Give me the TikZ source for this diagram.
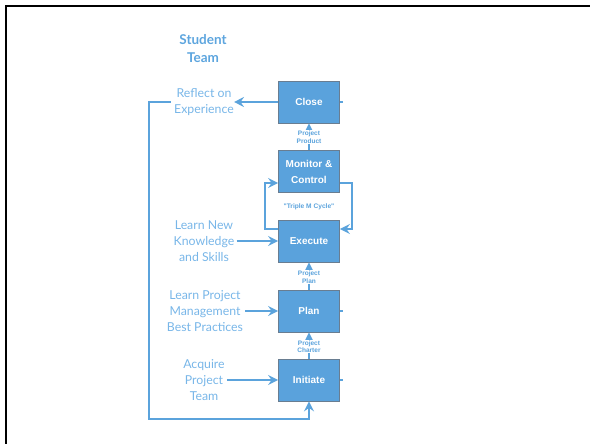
\documentclass[tikz,border=0pt]{standalone}
\usepackage{fontspec}
\setmainfont{Lato}
\newfontfamily\boxfont{Liberation Sans}
\usetikzlibrary{arrows.meta}
\definecolor{lineblue}{RGB}{91,163,220}
\definecolor{boxblue}{RGB}{90,162,220}
\definecolor{txtblue}{RGB}{120,182,232}
\definecolor{titleblue}{RGB}{93,165,222}
\definecolor{boxedge}{RGB}{105,125,145}
\tikzset{
  pbox/.style={draw=boxedge, line width=0.8pt, fill=boxblue, minimum width=61pt, minimum height=42pt, inner sep=0pt, text=white, font=\boxfont\bfseries\fontsize{10}{11}\selectfont},
  side/.style={text=txtblue, align=center, inner sep=2pt, font=\fontsize{12.3}{16}\selectfont},
  small/.style={text=lineblue, fill=white, align=center, inner sep=0.5pt, font=\boxfont\bfseries\fontsize{6.5}{7.5}\selectfont},
  arr/.style={draw=lineblue, line width=1.8pt, -{Stealth[length=10pt,width=10pt,inset=3.5pt]}},
  ln/.style={draw=lineblue, line width=1.8pt},
}
\begin{document}
\begin{tikzpicture}[x=1pt,y=-1pt]
\useasboundingbox (0,0) rectangle (590,444);
\draw[black, line width=2.5pt] (6,444) -- (6,6) -- (590,6);

\node[text=titleblue, align=center, font=\bfseries\fontsize{13.5}{18}\selectfont] (title) at (203,49) {Student\\Team};

\node[pbox] (close) at (309,102) {Close};
\node[pbox, align=center, font=\boxfont\bfseries\fontsize{10}{16}\selectfont] (monitor) at (309,171.5) {Monitor \&\\Control};
\node[pbox] (execute) at (309,241) {Execute};
\node[pbox] (plan) at (309,311) {Plan};
\node[pbox] (initiate) at (309,380) {Initiate};

\node[side] (reflect) at (204,102) {Reflect on\\Experience};
\node[side] (knowledge) at (204,241) {Learn New\\Knowledge\\and Skills};
\node[side] (pm) at (205,311) {Learn Project\\Management\\Best Practices};
\node[side] (acquire) at (204,380) {Acquire\\Project\\Team};

% vertical flow
\draw[arr] (monitor.north) -- (close.south);
\draw[arr] (plan.north) -- (execute.south);
\draw[arr] (initiate.north) -- (plan.south);
\node[small] (pprod) at (309,137) {Project\\Product};
\node[small] (pplan) at (309,277) {Project\\Plan};
\node[small] (pchart) at (309,346.5) {Project\\Charter};

% triple M cycle
\coordinate (cl1) at (265,229);
\coordinate (cl2) at (265,183);
\coordinate (cr1) at (352,183);
\coordinate (cr2) at (352,229);
\draw[arr] ([yshift=12pt]execute.west) -- (cl1) -- (cl2) -- ([yshift=-11.5pt]monitor.west);
\draw[arr] ([yshift=-11.5pt]monitor.east) -- (cr1) -- (cr2) -- ([yshift=12pt]execute.east);
\node[text=lineblue, font=\boxfont\bfseries\fontsize{6.6}{8}\selectfont] (triple) at (309,207) {"Triple M Cycle"};

% inputs
\draw[arr] (close.west) -- ([xshift=-2pt]reflect.east);
\draw[arr] (knowledge.east) -- (execute.west);
\draw[arr] (pm.east) -- (plan.west);
\draw[arr] (acquire.east) -- (initiate.west);

% feedback loop
\coordinate (lb) at (149,419);
\draw[arr] ([xshift=-1pt]reflect.west) -| (lb) -| (initiate.south);

% small stubs
\draw[ln] (close.east) -- ++(3,0);
\draw[ln] (plan.east) -- ++(3,0);
\draw[ln] (initiate.east) -- ++(3,0);
\end{tikzpicture}
\end{document}
